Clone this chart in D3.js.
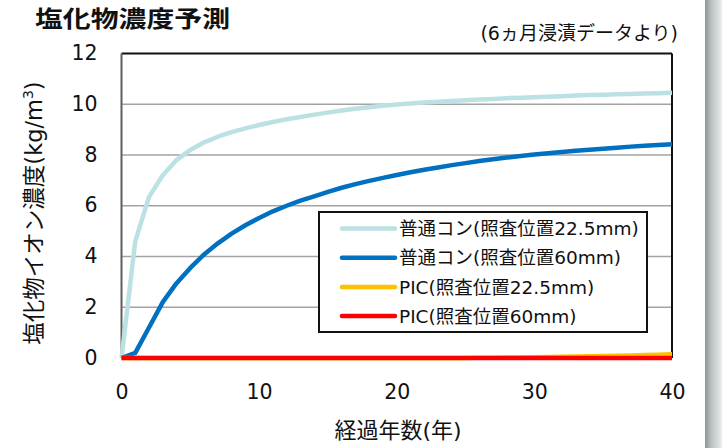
<!DOCTYPE html>
<html>
<head>
<meta charset="utf-8">
<script src="https://cdn.jsdelivr.net/npm/d3@7"></script>
<style>
  html, body { margin: 0; padding: 0; background: #fff; }
  svg { display: block; }
  text { font-family: "DejaVu Sans", "Noto Sans CJK JP", sans-serif; fill: #111; }
  .jp { font-family: "Noto Sans CJK JP", "DejaVu Sans", sans-serif; }
</style>
</head>
<body>
<svg id="chart" width="722" height="448"></svg>
<script>
// Elapsed years 0..40
const years = d3.range(0, 41);

// Ordinary concrete, depth 22.5 mm
const ordinary225 = [0, 4.6, 6.35, 7.2, 7.8, 8.2, 8.5, 8.72, 8.9, 9.05,
  9.18, 9.3, 9.41, 9.5, 9.59, 9.67, 9.75, 9.82, 9.88, 9.94,
  9.99, 10.03, 10.07, 10.1, 10.13, 10.16, 10.19, 10.21, 10.24, 10.26,
  10.28, 10.3, 10.32, 10.34, 10.36, 10.37, 10.39, 10.4, 10.42, 10.43, 10.45];

// Ordinary concrete, depth 60 mm
const ordinary60 = [0, 0.2, 1.2, 2.2, 2.95, 3.55, 4.08, 4.52, 4.9, 5.23,
  5.52, 5.78, 6.0, 6.2, 6.37, 6.55, 6.71, 6.85, 6.98, 7.1,
  7.21, 7.32, 7.42, 7.51, 7.6, 7.68, 7.76, 7.83, 7.9, 7.96,
  8.02, 8.07, 8.12, 8.17, 8.21, 8.25, 8.29, 8.33, 8.36, 8.39, 8.42];

// PIC, depth 22.5 mm
const pic225 = [0, 0, 0, 0, 0, 0, 0, 0, 0, 0,
  0, 0, 0, 0, 0, 0, 0, 0, 0, 0,
  0, 0, 0, 0, 0, 0, 0.005, 0.01, 0.015, 0.02,
  0.03, 0.035, 0.045, 0.055, 0.065, 0.075, 0.09, 0.1, 0.115, 0.13, 0.145];

// PIC, depth 60 mm
const pic60 = [0, 0, 0, 0, 0, 0, 0, 0, 0, 0,
  0, 0, 0, 0, 0, 0, 0, 0, 0, 0,
  0, 0, 0, 0, 0, 0, 0, 0, 0, 0,
  0, 0, 0, 0, 0, 0, 0, 0, 0, 0, 0];

const seriesNames = ["普通コン(照査位置22.5mm)", "普通コン(照査位置60mm)", "PIC(照査位置22.5mm)", "PIC(照査位置60mm)"];
const seriesColors = ["#BCE1E3", "#0070C0", "#FFC000", "#FF0000"];
const seriesValues = [ordinary225, ordinary60, pic225, pic60];

const xTicks = [0, 10, 20, 30, 40];
const yTicks = [0, 2, 4, 6, 8, 10, 12];

const chartTitle = "塩化物濃度予測";
const noteText = "(6ヵ月浸漬データより)";
const xTitle = "経過年数(年)";

const svg = d3.select("#chart");

const x = d3.scaleLinear().domain([0, 40]).range([121.5, 672]);
const y = d3.scaleLinear().domain([0, 12]).range([358, 53.5]);

// Shaded strip on the right edge
const defs = svg.append("defs");
const grad = defs.append("linearGradient").attr("id", "edge").attr("x1", 0).attr("x2", 1).attr("y1", 0).attr("y2", 0);
grad.append("stop").attr("offset", 0).attr("stop-color", "#8e9494");
grad.append("stop").attr("offset", 0.35).attr("stop-color", "#b9bfc0");
grad.append("stop").attr("offset", 1).attr("stop-color", "#e9eff1");
svg.append("rect").attr("x", 705).attr("y", 0).attr("width", 17).attr("height", 448).attr("fill", "url(#edge)");

// Horizontal gridlines
svg.append("g")
  .selectAll("line")
  .data(yTicks.filter(d => d > 0 && d < 12))
  .join("line")
  .attr("x1", x(0)).attr("x2", x(40))
  .attr("y1", d => y(d)).attr("y2", d => y(d))
  .attr("stroke", "#a3a3a3").attr("stroke-width", 1.5);

// Plot frame: top and right black, left axis grey
svg.append("line").attr("x1", x(0)).attr("x2", x(40)).attr("y1", y(12)).attr("y2", y(12))
  .attr("stroke", "#111").attr("stroke-width", 2);
svg.append("line").attr("x1", x(40)).attr("x2", x(40)).attr("y1", y(12)).attr("y2", y(0))
  .attr("stroke", "#111").attr("stroke-width", 2);
svg.append("line").attr("x1", x(0)).attr("x2", x(0)).attr("y1", y(12)).attr("y2", y(0))
  .attr("stroke", "#5e5e5e").attr("stroke-width", 2);
svg.append("line").attr("x1", x(0)).attr("x2", x(40)).attr("y1", y(0)).attr("y2", y(0))
  .attr("stroke", "#5e5e5e").attr("stroke-width", 2);

// Y axis tick labels
const yAxis = svg.append("g")
  .attr("transform", `translate(${x(0)},0)`)
  .call(d3.axisLeft(y).tickValues(yTicks).tickSize(0).tickPadding(24).tickFormat(d3.format("d")));
yAxis.select(".domain").remove();
yAxis.selectAll("text").attr("font-size", 20.5).attr("font-family", "DejaVu Sans, sans-serif").attr("fill", "#111").attr("dy", "0.3em");

// X axis tick labels
const xAxis = svg.append("g")
  .attr("transform", `translate(0,${y(0)})`)
  .call(d3.axisBottom(x).tickValues(xTicks).tickSize(0).tickPadding(26).tickFormat(d3.format("d")));
xAxis.select(".domain").remove();
xAxis.selectAll("text").attr("font-size", 20.5).attr("font-family", "DejaVu Sans, sans-serif").attr("fill", "#111");

// Series lines
const line = d3.line()
  .x((d, i) => x(years[i]))
  .y(d => y(d));

svg.append("g")
  .selectAll("path")
  .data(seriesValues)
  .join("path")
  .attr("d", d => line(d))
  .attr("fill", "none")
  .attr("stroke", (d, i) => seriesColors[i])
  .attr("stroke-width", 4.5)
  .attr("stroke-linejoin", "round");

// Legend
const legend = svg.append("g");
legend.append("rect")
  .attr("x", 319).attr("y", 212).attr("width", 328).attr("height", 120)
  .attr("fill", "#fff").attr("stroke", "#111").attr("stroke-width", 2);
const items = legend.selectAll("g.item")
  .data(seriesNames)
  .join("g")
  .attr("class", "item")
  .attr("transform", (d, i) => `translate(0,${228.5 + i * 29.2})`);
items.append("line")
  .attr("x1", 342).attr("x2", 395).attr("y1", 0).attr("y2", 0)
  .attr("stroke", (d, i) => seriesColors[i]).attr("stroke-width", 4.5).attr("stroke-linecap", "round");
items.append("text")
  .attr("x", 399).attr("y", 0).attr("dy", "0.36em")
  .attr("font-size", 18.5)
  .text(d => d);

// Title
svg.append("text")
  .attr("class", "jp")
  .attr("x", 35).attr("y", 27)
  .attr("font-size", 23).attr("font-weight", "bold")
  .attr("textLength", 195).attr("lengthAdjust", "spacingAndGlyphs")
  .text(chartTitle);

// Source note
svg.append("text")
  .attr("x", 678).attr("y", 40)
  .attr("text-anchor", "end")
  .attr("font-size", 19)
  .text(noteText);

// X axis title
svg.append("text")
  .attr("x", 398).attr("y", 438)
  .attr("text-anchor", "middle")
  .attr("font-size", 22)
  .text(xTitle);

// Y axis title with superscript
const yt = svg.append("text")
  .attr("transform", "translate(42,213) rotate(-90)")
  .attr("text-anchor", "middle")
  .attr("font-size", 22.5);
yt.append("tspan").text("塩化物イオン濃度(kg/m");
yt.append("tspan").attr("font-size", 14).attr("dy", -9).text("3");
yt.append("tspan").attr("dy", 9).text(")");
</script>
</body>
</html>
